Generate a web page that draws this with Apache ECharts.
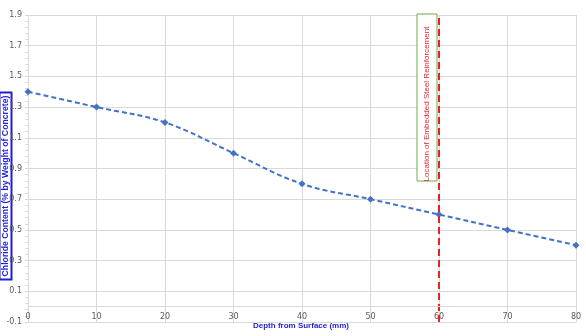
<!DOCTYPE html>
<html><head><meta charset="utf-8">
<script src="https://cdn.jsdelivr.net/npm/echarts@6/dist/echarts.min.js"></script>
<style>html,body{margin:0;padding:0;background:#fff}#c{width:586px;height:336px}</style>
</head><body><div id="c"></div>
<script>
const depths = [0, 10, 20, 30, 40, 50, 60, 70, 80];
const chloride = [1.4, 1.3, 1.2, 1.0, 0.8, 0.7, 0.6, 0.5, 0.4];
const rebarDepth = 60;
const xTitle = 'Depth from Surface (mm)';
const yTitle = 'Chloride Content (% by Weight of Concrete)';
const rebarLabel = 'Location of Embedded Steel Reinforcement';

const chart = echarts.init(document.getElementById('c'), null, {renderer: 'canvas'});
chart.setOption({
  animation: false,
  backgroundColor: '#fff',
  grid: {left: 28, right: 10, top: 15, bottom: 14},
  xAxis: {
    type: 'value', min: 0, max: 80, interval: 10,
    axisLine: {show: true, onZero: false, lineStyle: {color: '#d9d9d9', width: 1}},
    axisTick: {show: false},
    axisLabel: {color: '#595959', fontSize: 8, fontFamily: 'DejaVu Sans', inside: true, margin: 1},
    splitLine: {show: true, lineStyle: {color: '#d9d9d9', width: 1}}
  },
  yAxis: {
    type: 'value', min: -0.1, max: 1.9, interval: 0.2,
    axisLine: {show: true, onZero: false, lineStyle: {color: '#d9d9d9'}},
    axisTick: {show: true, length: 3, lineStyle: {color: '#d9d9d9'}},
    minorTick: {show: true, splitNumber: 5, length: 3, lineStyle: {color: '#d9d9d9'}},
    axisLabel: {color: '#595959', fontSize: 8, fontFamily: 'DejaVu Sans', margin: 6,
      formatter: v => (Math.round(v * 10) / 10).toFixed(1)},
    splitLine: {show: true, lineStyle: {color: '#d9d9d9', width: 1}}
  },
  series: [{
    type: 'line',
    data: depths.map((d, i) => [d, chloride[i]]),
    smooth: 0.4,
    symbol: 'diamond', symbolSize: 7,
    itemStyle: {color: '#4472C4'},
    lineStyle: {color: '#4472C4', width: 2, type: [5, 3]},
    markLine: {
      silent: true, symbol: 'none',
      label: {show: false},
      data: [
        {xAxis: rebarDepth, lineStyle: {color: '#e8202a', width: 2, type: [7, 4]}},
        {yAxis: 0, lineStyle: {color: '#d9d9d9', width: 1, type: 'solid'}}
      ]
    },
    z: 3
  }],
  graphic: [
    {
      type: 'text', left: 253, top: 322,
      style: {text: xTitle, fill: '#1f1fd1', font: 'bold 8px "Liberation Sans", Arial, sans-serif'}
    },
    {
      type: 'text', x: 5.5, y: 186, rotation: Math.PI / 2, originX: 0, originY: 0,
      style: {text: yTitle, fill: '#1f1fd1', font: 'bold 8.7px "Liberation Sans", Arial, sans-serif',
        align: 'center', verticalAlign: 'middle',
        borderColor: '#1f1fd1', borderWidth: 1, padding: [2, 3, 1, 3], backgroundColor: 'rgba(255,255,255,0)'}
    },
    {
      type: 'rect', shape: {x: 417, y: 14, width: 20, height: 167},
      style: {fill: '#fff', stroke: '#70ad47', lineWidth: 1}, z: 10
    },
    {
      type: 'text', x: 427, y: 104, rotation: Math.PI / 2, z: 11,
      style: {text: rebarLabel, fill: '#e8202a', font: '8px "Liberation Sans", Arial, sans-serif',
        align: 'center', verticalAlign: 'middle'}
    }
  ]
});
</script>
</body></html>
